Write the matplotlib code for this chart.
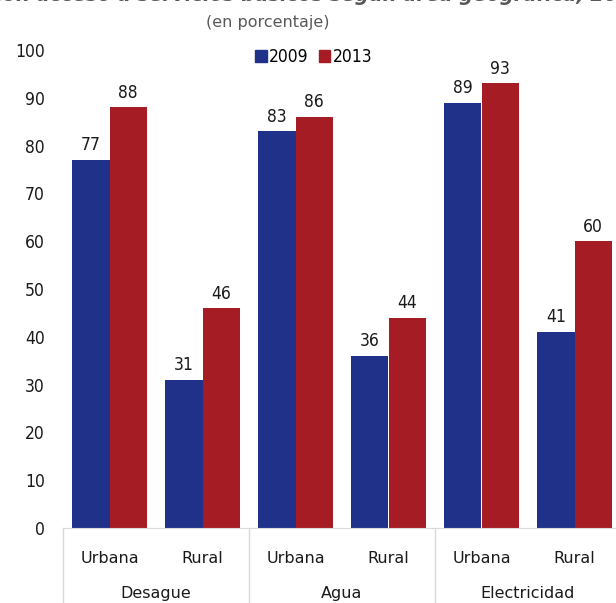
import matplotlib
matplotlib.use("Agg")
from matplotlib import pyplot as plt
from matplotlib.patches import Patch
import numpy as np

groups = ["Desague", "Agua", "Electricidad"]
areas = ["Urbana", "Rural"]
years = ["2009", "2013"]
v2009 = [77, 31, 83, 36, 89, 41]
v2013 = [88, 46, 86, 44, 93, 60]

blue = "#1f3189"
red = "#a51c24"
num_font = {"family": "DejaVu Sans", "stretch": "condensed", "size": 12.5}
txt_font = "DejaVu Sans"

fig = plt.figure(figsize=(6.16, 6.03), dpi=100)
ax = fig.add_axes([63 / 616, 75 / 603, 558 / 616, 478 / 603])

x = np.arange(len(v2009))
w = 0.4
b1 = ax.bar(x - w / 2, v2009, width=w, color=blue, label=years[0])
b2 = ax.bar(x + w / 2, v2013, width=w, color=red, label=years[1])

for bars in (b1, b2):
    for bar in bars:
        h = bar.get_height()
        ax.annotate(f"{h:.0f}", (bar.get_x() + bar.get_width() / 2, h),
                    xytext=(0, 4), textcoords="offset points",
                    ha="center", va="bottom", color="#1a1a1a", **num_font)

ax.set_xlim(-0.5, len(x) - 0.5)
ax.set_ylim(0, 100)
ax.set_yticks(np.arange(0, 101, 10))
ax.tick_params(axis="y", length=0, pad=13, labelcolor="#1a1a1a")
for lab in ax.get_yticklabels():
    lab.set_family(num_font["family"])
    lab.set_stretch(num_font["stretch"])
    lab.set_fontsize(num_font["size"])
ax.set_xticks([])

for s in ["top", "right", "left"]:
    ax.spines[s].set_visible(False)
ax.spines["bottom"].set_color("#d9d9d9")

# category labels under the axis
for i, xi in enumerate(x):
    ax.text(xi, -0.063, areas[i % 2], transform=ax.get_xaxis_transform(),
            ha="center", va="center", fontsize=11.5, family=txt_font,
            color="#1a1a1a", clip_on=False)
for g, name in enumerate(groups):
    ax.text(2 * g + 0.5, -0.136, name, transform=ax.get_xaxis_transform(),
            ha="center", va="center", fontsize=11.5, family=txt_font,
            color="#1a1a1a", clip_on=False)
    ax.plot([2 * g - 0.5, 2 * g - 0.5], [0, -0.2], transform=ax.get_xaxis_transform(),
            color="#d9d9d9", lw=1, clip_on=False)

handles = [Patch(color=blue), Patch(color=red)]
fig.legend(handles, years, loc="center", bbox_to_anchor=(314 / 616, 1 - 57 / 603),
           ncol=2, frameon=False, handlelength=0.65, handleheight=0.65,
           handletextpad=0.15, columnspacing=0.6,
           prop={"family": num_font["family"], "stretch": "condensed", "size": 12.5})

fig.text(268 / 616, 1 - 22 / 603, "(en porcentaje)", ha="center", va="center",
         fontsize=11.5, family=txt_font, color="#595959")
# title is cut off at the top edge in the original
fig.text(300 / 616, 1 - 1 / 603,
         "Hogares con acceso a servicios básicos según área geográfica, 2007-2013",
         ha="center", va="baseline", fontsize=14, fontweight="bold",
         fontstyle="italic", family=txt_font, color="#595959")

fig.savefig("out.png", dpi=100)
